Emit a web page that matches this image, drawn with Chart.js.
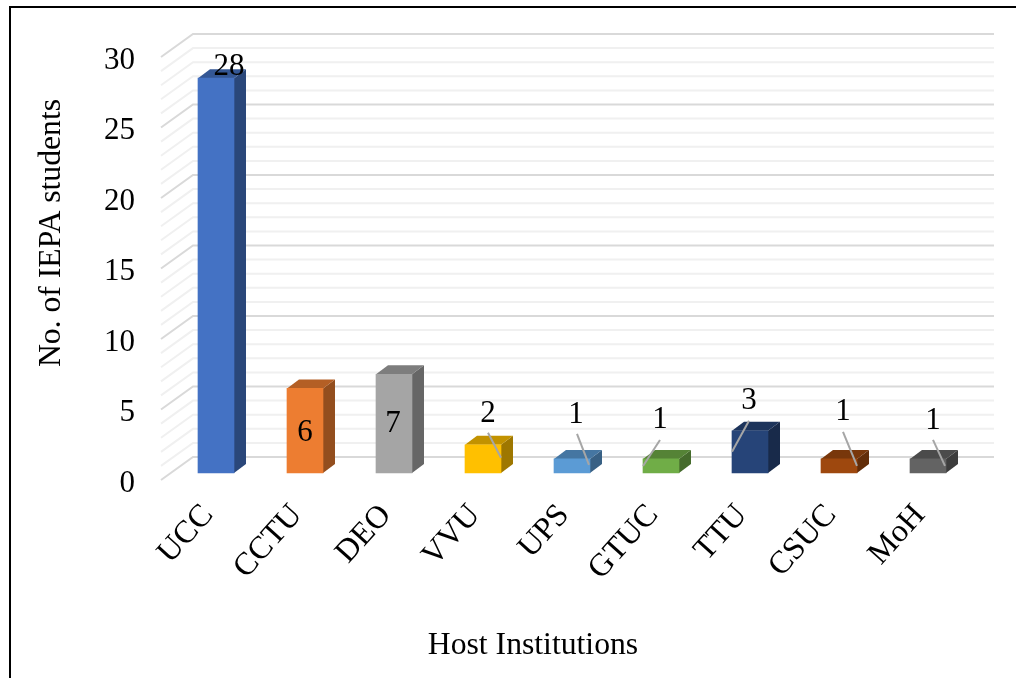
<!DOCTYPE html>
<html>
<head>
<meta charset="utf-8">
<title>Host Institutions</title>
<script src="https://cdn.jsdelivr.net/npm/chart.js@4"></script>
<style>
    html, body { margin: 0; padding: 0; background: #fff; overflow: hidden; }
    canvas { display: block; }
</style>
</head>
<body>
<canvas id="hostChart" width="1020" height="678"></canvas>
<script>
    const categories = ['UCC', 'CCTU', 'DEO', 'VVU', 'UPS', 'GTUC', 'TTU', 'CSUC', 'MoH'];
    const students = [28, 6, 7, 2, 1, 1, 3, 1, 1];
    const barColors = ['#4472c4', '#ed7d31', '#a5a5a5', '#ffc000', '#5b9bd5', '#70ad47', '#264478', '#9e480e', '#636363'];
    const yTicks = [0, 5, 10, 15, 20, 25, 30];
    const gridValues = Array.from({ length: 31 }, (_, i) => i);

    // label placement relative to the top centre of each bar: [labelDx, labelDy]
    const labelOffsets = [[13, -11], [0, 44], [-1, 50], [5, -31], [4, -44], [-1, -39], [-1, -30], [4, -47], [5, -38]];
    // leader lines, same reference: [x1, y1, x2, y2], null when the label has none
    const leaderOffsets = [null, null, null, [5, -12, 18, 13], [5, -25, 17, 6], [-1, -19, -18, 7], [-1, -10, -18, 21], [4, -27, 18, 7], [5, -19, 17, 7]];

    const FONT = '"Liberation Serif", "Times New Roman", serif';
    const DEPTH_X = 12;
    const DEPTH_Y = 9;
    // the left wall of the 3D box runs from the labels side to the back wall
    const WALL_FRONT_X = 161;
    const WALL_BACK_X = 193;
    const WALL_RIGHT_X = 994;
    const WALL_FRONT_DY = 7;
    const WALL_BACK_DY = -16;
    // y tick labels sit below the plane of the bars, this many units
    const TICK_SHIFT = 0.75;

    const shade = (hex, factor) => {
        const n = parseInt(hex.slice(1), 16);
        const r = Math.round(((n >> 16) & 255) * factor);
        const g = Math.round(((n >> 8) & 255) * factor);
        const b = Math.round((n & 255) * factor);
        return `rgb(${r}, ${g}, ${b})`;
    };

    const polygon = (ctx, points, color) => {
        ctx.fillStyle = color;
        ctx.beginPath();
        points.forEach(([x, y], i) => (i ? ctx.lineTo(x, y) : ctx.moveTo(x, y)));
        ctx.closePath();
        ctx.fill();
    };

    const box3d = {
        id: 'box3d',
        beforeDatasetsDraw(chart) {
            const { ctx, scales: { y } } = chart;
            ctx.save();
            ctx.lineWidth = 2;
            gridValues.forEach((value) => {
                const py = y.getPixelForValue(value);
                ctx.strokeStyle = value % 5 === 0 ? '#d9d9d9' : '#f0f0f0';
                ctx.beginPath();
                ctx.moveTo(WALL_FRONT_X, py + WALL_FRONT_DY);
                ctx.lineTo(WALL_BACK_X, py + WALL_BACK_DY);
                ctx.lineTo(WALL_RIGHT_X, py + WALL_BACK_DY);
                ctx.stroke();
            });
            chart.getDatasetMeta(0).data.forEach((bar, i) => {
                const half = bar.width / 2;
                const left = bar.x - half;
                const right = bar.x + half;
                polygon(ctx, [[right, bar.y], [right + DEPTH_X, bar.y - DEPTH_Y], [right + DEPTH_X, bar.base - DEPTH_Y], [right, bar.base]], shade(barColors[i], 0.62));
                polygon(ctx, [[left, bar.y], [left + DEPTH_X, bar.y - DEPTH_Y], [right + DEPTH_X, bar.y - DEPTH_Y], [right, bar.y]], shade(barColors[i], 0.76));
            });
            ctx.restore();
        },
        afterDatasetsDraw(chart) {
            const { ctx } = chart;
            ctx.save();
            chart.getDatasetMeta(0).data.forEach((bar, i) => {
                const leader = leaderOffsets[i];
                if (leader) {
                    ctx.strokeStyle = '#a6a6a6';
                    ctx.lineWidth = 2;
                    ctx.beginPath();
                    ctx.moveTo(bar.x + leader[0], bar.y + leader[1]);
                    ctx.lineTo(bar.x + leader[2], bar.y + leader[3]);
                    ctx.stroke();
                }
                ctx.fillStyle = '#000';
                ctx.font = `31px ${FONT}`;
                ctx.textAlign = 'center';
                ctx.textBaseline = 'middle';
                ctx.fillText(String(students[i]), bar.x + labelOffsets[i][0], bar.y + labelOffsets[i][1]);
            });

            // axis titles are off centre in the original, so they are placed by hand
            ctx.fillStyle = '#000';
            ctx.font = `31.7px ${FONT}`;
            ctx.textAlign = 'center';
            ctx.textBaseline = 'middle';
            ctx.fillText('Host Institutions', 533, 646);
            ctx.translate(52, 233);
            ctx.rotate(-Math.PI / 2);
            ctx.fillText('No. of IEPA students', 0, 0);
            ctx.restore();

            // outer frame
            ctx.save();
            ctx.strokeStyle = '#000';
            ctx.lineWidth = 2;
            ctx.beginPath();
            ctx.moveTo(10, 678);
            ctx.lineTo(10, 7);
            ctx.lineTo(1016, 7);
            ctx.stroke();
            ctx.restore();
        }
    };

    new Chart(document.getElementById('hostChart').getContext('2d'), {
        type: 'bar',
        data: {
            labels: categories,
            datasets: [{
                data: students,
                backgroundColor: barColors,
                barThickness: 36,
                categoryPercentage: 1
            }]
        },
        options: {
            responsive: false,
            animation: false,
            layout: { padding: { top: 50, right: 47.5, left: 0, bottom: 0 } },
            plugins: { legend: { display: false }, tooltip: { enabled: false }, title: { display: false } },
            scales: {
                x: {
                    grid: { display: false, drawTicks: false },
                    border: { display: false },
                    afterFit: (scale) => { scale.height = 194.4; },
                    ticks: {
                        color: '#000',
                        font: { family: FONT, size: 32 },
                        minRotation: 48,
                        maxRotation: 48,
                        autoSkip: false,
                        padding: 13.4,
                        labelOffset: -8
                    }
                },
                y: {
                    min: -TICK_SHIFT,
                    max: 30,
                    grid: { display: false, drawTicks: false },
                    border: { display: false },
                    afterFit: (scale) => {
                        scale.width = 171.5;
                        // the shifted ticks otherwise push the plot area down
                        scale.paddingTop = 0;
                        scale.paddingBottom = 0;
                    },
                    afterBuildTicks: (scale) => { scale.ticks = yTicks.map((v) => ({ value: v - TICK_SHIFT })); },
                    ticks: {
                        color: '#000',
                        font: { family: FONT, size: 31 },
                        autoSkip: false,
                        padding: 36.5,
                        callback: (value) => String(value + TICK_SHIFT)
                    }
                }
            }
        },
        plugins: [box3d]
    });
</script>
</body>
</html>
